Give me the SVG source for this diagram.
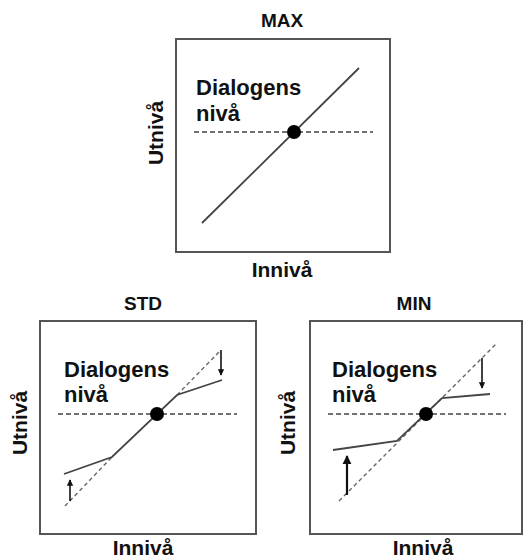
<svg xmlns="http://www.w3.org/2000/svg" width="526" height="559" viewBox="0 0 526 559">
<defs>
<style>
.t{font-family:"Liberation Sans",Arial,sans-serif;font-weight:bold;fill:#111;}
.title{font-size:19px;text-anchor:middle;}
.lab{font-size:22px;}
.ax{font-size:21px;text-anchor:middle;}
.box{fill:#fff;stroke:#555;stroke-width:2;}
.sol{fill:none;stroke:#444;stroke-width:1.8;}
.dash{fill:none;stroke:#444;stroke-width:1.5;stroke-dasharray:5,3;}
.ddia{fill:none;stroke:#666;stroke-width:1.4;stroke-dasharray:4,3;}
.arr{fill:none;stroke:#111;}
</style>
<marker id="ah" viewBox="0 0 10 10" refX="9" refY="5" markerWidth="4" markerHeight="4.5" orient="auto" markerUnits="strokeWidth">
<path d="M0,0 L10,5 L0,10 z" fill="#111"/>
</marker>
</defs>
<rect width="526" height="559" fill="#fff"/>

<g id="max">
<text class="t title" x="282" y="27">MAX</text>
<rect class="box" x="176" y="39" width="214" height="213"/>
<text class="t lab" x="196" y="95">Dialogens</text>
<text class="t lab" x="196" y="121">nivå</text>
<text class="t ax" transform="translate(163,133) rotate(-90)" x="0" y="0">Utnivå</text>
<text class="t ax" x="282" y="277">Innivå</text>
</g>

<g id="std">
<text class="t title" x="143" y="310">STD</text>
<rect class="box" x="40" y="321" width="216" height="213"/>
<text class="t lab" x="64" y="377">Dialogens</text>
<text class="t lab" x="64" y="402">nivå</text>
<text class="t ax" transform="translate(27,423) rotate(-90)" x="0" y="0">Utnivå</text>
<text class="t ax" x="143" y="555">Innivå</text>
</g>

<g id="min">
<text class="t title" x="414" y="310">MIN</text>
<rect class="box" x="310" y="321" width="212" height="213"/>
<text class="t lab" x="332" y="377">Dialogens</text>
<text class="t lab" x="332" y="402">nivå</text>
<text class="t ax" transform="translate(295,423) rotate(-90)" x="0" y="0">Utnivå</text>
<text class="t ax" x="423" y="555">Innivå</text>
</g>

<g id="connectors">
<!-- MAX -->
<line class="dash" x1="194" y1="132" x2="373" y2="132"/>
<line class="sol" x1="202" y1="223" x2="359" y2="68"/>
<circle cx="294" cy="132" r="7" fill="#000"/>
<!-- STD -->
<line class="dash" x1="58" y1="414" x2="237" y2="414"/>
<polyline class="ddia" points="65,506 112,457"/>
<polyline class="ddia" points="177,395 221,350"/>
<polyline class="sol" points="64,474 112,457 177,395 222,380"/>
<circle cx="157" cy="414" r="7" fill="#000"/>
<line class="arr" stroke-width="1.6" x1="70" y1="501" x2="70" y2="480" marker-end="url(#ah)"/>
<line class="arr" stroke-width="1.6" x1="221" y1="350" x2="221" y2="375" marker-end="url(#ah)"/>
<!-- MIN -->
<line class="dash" x1="328" y1="414" x2="506" y2="414"/>
<line class="ddia" x1="339" y1="501" x2="497" y2="343"/>
<polyline class="sol" points="333,450 397,441 442,398 490,394"/>
<circle cx="426" cy="414" r="7" fill="#000"/>
<line class="arr" stroke-width="2.2" x1="347" y1="495" x2="347" y2="456" marker-end="url(#ah)"/>
<line class="arr" stroke-width="1.6" x1="482" y1="358" x2="482" y2="388" marker-end="url(#ah)"/>
</g>
</svg>
